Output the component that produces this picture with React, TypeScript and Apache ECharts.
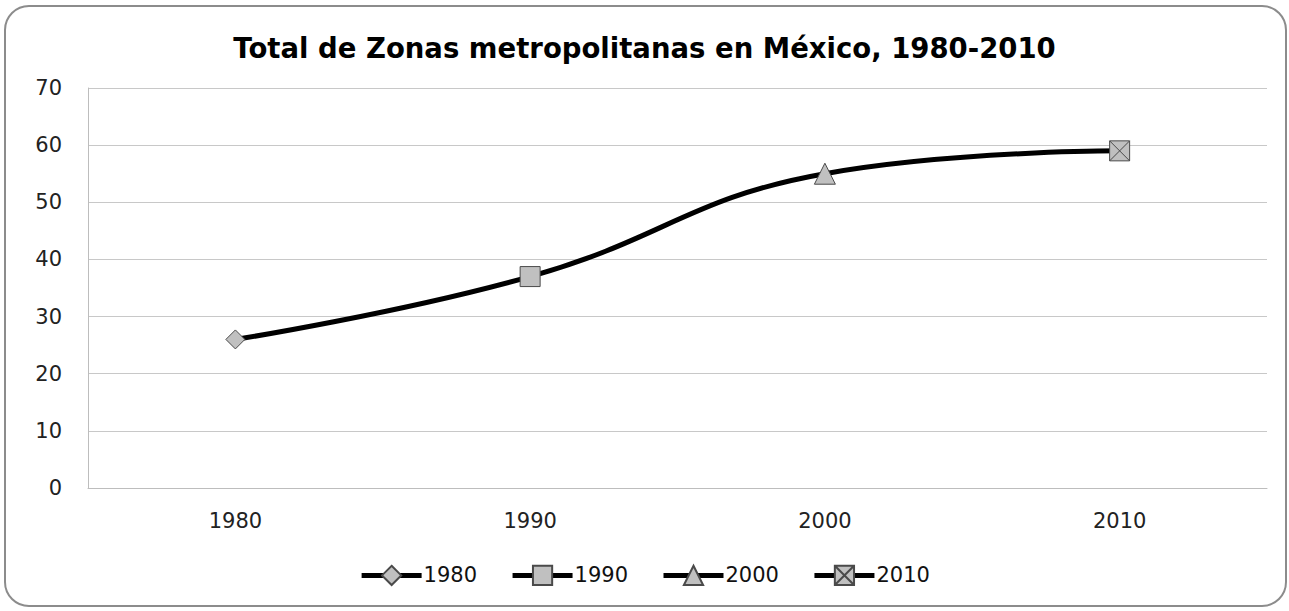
import React, { useEffect, useRef } from "react";
import * as echarts from "echarts";

const categories = ["1980", "1990", "2000", "2010"];
const values = [26, 37, 55, 59];
const yTicks = [0, 10, 20, 30, 40, 50, 60, 70];
const titleText = "Total de Zonas metropolitanas en México, 1980-2010";
const markerSymbols = [
  "diamond",
  "rect",
  "triangle",
  "path://M0 0 L10 0 L10 10 L0 10 Z M0 0 L10 10 M10 0 L0 10",
];
const markerSizes = [19, 20, 21, 20];

export default function App() {
  const ref = useRef<HTMLDivElement>(null);
  useEffect(() => {
    if (!ref.current) return;
    const chart = echarts.init(ref.current, null, { renderer: "svg" });
    const font = "'DejaVu Sans', 'Open Sans', sans-serif";
    const pointSeries = categories.map((c, i) => ({
      name: c,
      type: "line",
      data: categories.map((_, j) => (j === i ? values[j] : null)),
      symbol: markerSymbols[i],
      symbolSize: markerSizes[i],
      showSymbol: true,
      lineStyle: { color: "#000", width: 5 },
      itemStyle: { color: "#c0c0c0", borderColor: "#4a4a4a", borderWidth: 1 },
      z: 5,
    }));
    chart.setOption({
      animation: false,
      backgroundColor: "#fff",
      title: {
        text: titleText,
        left: "center",
        top: 29,
        textStyle: { fontFamily: font, fontSize: 27.5, fontWeight: "bold", color: "#000" },
      },
      graphic: [
        {
          type: "rect",
          shape: { x: 5, y: 6, width: 1281, height: 600, r: 24 },
          style: { fill: "none", stroke: "#8c8c8c", lineWidth: 2 },
          silent: true,
        },
      ],
      legend: {
        data: categories,
        bottom: 20,
        left: "center",
        itemWidth: 60,
        itemHeight: 24,
        itemGap: 33,
        lineStyle: { width: 5, color: "#000" },
        textStyle: { fontFamily: font, fontSize: 21, color: "#111", padding: [0, 0, 0, -3] },
      },
      grid: { left: 88, right: 22, top: 88, bottom: 123, containLabel: false },
      xAxis: {
        type: "category",
        data: categories,
        boundaryGap: true,
        axisLine: { lineStyle: { color: "#bdbdbd", width: 1 } },
        axisTick: { show: false },
        axisLabel: { fontFamily: font, fontSize: 21, color: "#222", margin: 22 },
        splitLine: { show: false },
      },
      yAxis: {
        type: "value",
        min: yTicks[0],
        max: yTicks[yTicks.length - 1],
        interval: 10,
        axisLine: { show: true, lineStyle: { color: "#bdbdbd", width: 1 } },
        axisTick: { show: false },
        axisLabel: { fontFamily: font, fontSize: 21, color: "#222", margin: 26 },
        splitLine: { show: true, lineStyle: { color: "#c8c8c8", width: 1 } },
      },
      series: [
        {
          name: "Total",
          type: "line",
          data: values,
          smooth: 0.45,
          showSymbol: false,
          symbol: "none",
          lineStyle: { color: "#000", width: 5 },
          z: 3,
        },
        ...pointSeries,
      ],
    });
    return () => chart.dispose();
  }, []);
  return (
    <div
      ref={ref}
      style={{ position: "fixed", left: 0, top: 0, width: 1289, height: 611 }}
    />
  );
}
